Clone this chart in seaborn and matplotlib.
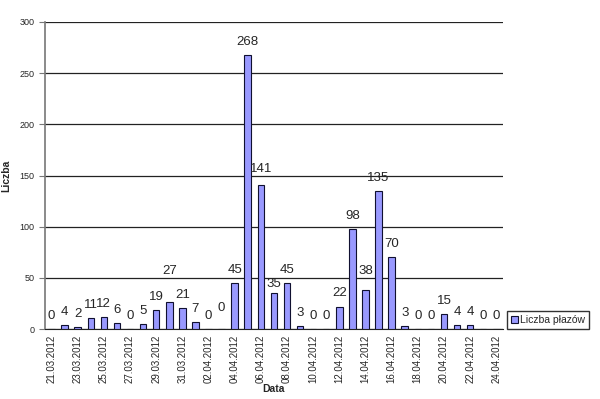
import seaborn as sns
import matplotlib.pyplot as plt
import pandas as pd
import numpy as np

# daily counts
dates = pd.date_range('2012-03-21', '2012-04-24').strftime('%d.%m.%Y').tolist()
counts = [0, 4, 2, 11, 12, 6, 0, 5, 19, 27, 21, 7, 0, 0, 45, 268, 141, 35, 45, 3,
          0, 0, 22, 98, 38, 135, 70, 3, 0, 0, 15, 4, 4, 0, 0]

df = pd.DataFrame({'Data': dates, 'Liczba': counts})

sns.set_style('white')
plt.rcParams['font.family'] = ['Liberation Sans', 'DejaVu Sans']

fig = plt.figure(figsize=(6, 3.99), dpi=100)
ax = fig.add_axes([0.075, 0.175, 0.763, 0.77])

sns.barplot(data=df, x='Data', y='Liczba', color='#9999ff', width=0.5,
            edgecolor='#101030', linewidth=0.8, saturation=1,
            label='Liczba płazów', ax=ax, zorder=3)

ax.set_ylim(0, 300)
ax.set_xlim(-0.5, len(dates) - 0.5)
ax.set_yticks(range(0, 301, 50))
ax.yaxis.grid(True, color='#222222', linewidth=0.9)
ax.set_axisbelow(True)
for s in ['top', 'right']:
    ax.spines[s].set_visible(False)
ax.spines['left'].set_color('#777777')
ax.spines['left'].set_linewidth(1.2)
ax.spines['bottom'].set_color('#222222')

# labels every other day, ticks at category boundaries
ax.set_xticks(range(0, len(dates), 2))
ax.set_xticklabels(dates[::2], rotation=90, fontsize=7)
ax.set_xticks(np.arange(-0.5, len(dates), 1), minor=True)
ax.tick_params(axis='x', which='major', length=0, pad=4)
ax.tick_params(axis='x', which='minor', length=4, color='#222222', direction='out')
ax.tick_params(axis='y', labelsize=6.5, length=4, color='#777777', direction='out', left=True)

# value labels (a few are nudged like in the original sheet)
nudge = {9: 17, 13: 8, 16: 3, 17: -4, 24: 6}
for i, v in enumerate(counts):
    ax.text(i, v + 7 + nudge.get(i, 0), str(v), ha='center', va='bottom', fontsize=9.5, zorder=4)

ax.set_xlabel('Data', fontsize=7.5, fontweight='bold', labelpad=1)
ax.set_ylabel('Liczba', fontsize=7.5, fontweight='bold', labelpad=6)

ax.legend(loc='center left', bbox_to_anchor=(1.01, 0.03), fontsize=7.5, frameon=True,
          fancybox=False, edgecolor='black', handlelength=0.7, handleheight=0.7,
          handletextpad=0.2, borderpad=0.35, borderaxespad=0)

fig.savefig('out.png', dpi=100)
